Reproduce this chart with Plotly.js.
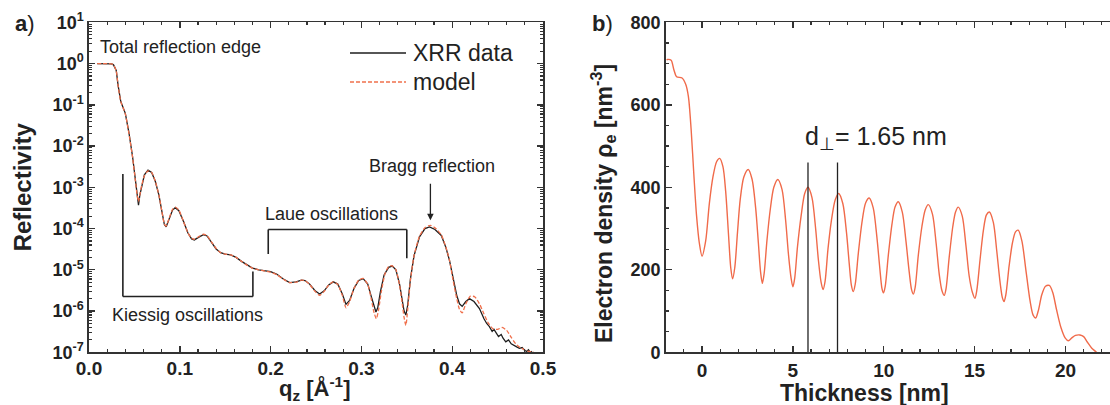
<!DOCTYPE html>
<html><head><meta charset="utf-8">
<script src="https://cdn.plot.ly/plotly-3.0.1.min.js"></script>
<style>html,body{margin:0;padding:0;background:#fff;}#chart{width:1110px;height:405px;}</style>
</head><body><div id="chart"></div>
<script>
// ---- Panel a: X-ray reflectivity ----
const qData = [0.009,0.015,0.020,0.025,0.027,0.030,0.032,0.035,0.040,0.044,0.048,0.051,0.053,0.0545,0.056,0.058,0.061,0.065,0.069,0.073,0.077,0.080,0.083,0.085,0.088,0.092,0.095,0.099,0.104,0.109,0.113,0.116,0.121,0.126,0.130,0.135,0.140,0.145,0.150,0.156,0.162,0.168,0.174,0.180,0.187,0.194,0.200,0.207,0.214,0.221,0.228,0.234,0.238,0.243,0.249,0.254,0.259,0.264,0.269,0.274,0.279,0.283,0.287,0.292,0.297,0.302,0.307,0.311,0.314,0.316,0.318,0.321,0.325,0.330,0.334,0.338,0.342,0.345,0.347,0.349,0.351,0.354,0.358,0.364,0.370,0.375,0.381,0.388,0.393,0.397,0.401,0.405,0.408,0.411,0.415,0.419,0.424,0.430,0.435,0.438,0.441,0.444,0.446,0.448,0.451,0.454,0.456,0.459,0.462,0.465,0.468,0.471,0.474,0.477,0.480,0.482,0.484,0.486,0.488];
const rData = [1.0,1.0,1.0,0.98,0.93,0.68,0.3,0.12,0.062,0.021,5.5e-3,1.5e-3,6e-4,3.7e-4,6.5e-4,1.1e-3,2.0e-3,2.6e-3,2.3e-3,1.4e-3,6.5e-4,2.8e-4,1.25e-4,1.1e-4,1.7e-4,2.8e-4,3.2e-4,2.7e-4,1.5e-4,7.8e-5,5.6e-5,5.3e-5,6.2e-5,7.1e-5,6.6e-5,4.6e-5,3.2e-5,2.6e-5,2.4e-5,2.3e-5,2.0e-5,1.6e-5,1.3e-5,1.1e-5,1.0e-5,9.3e-6,9.0e-6,7.8e-6,6.0e-6,4.9e-6,5.1e-6,5.6e-6,5.5e-6,4.5e-6,3.1e-6,2.6e-6,3.1e-6,4.3e-6,5.1e-6,4.5e-6,2.6e-6,1.45e-6,1.8e-6,3.6e-6,5.5e-6,6.1e-6,4.5e-6,2.2e-6,1.2e-6,9.5e-7,1.2e-6,3.0e-6,7.5e-6,1.15e-5,1.23e-5,1.0e-5,4.5e-6,1.8e-6,1.0e-6,8e-7,1.4e-6,6e-6,2.2e-5,6.3e-5,1.0e-4,1.1e-4,9.5e-5,6.8e-5,3.5e-5,1.7e-5,6e-6,2.4e-6,1.5e-6,1.3e-6,1.7e-6,2.0e-6,1.7e-6,1.15e-6,6.5e-7,5.0e-7,4.2e-7,3.2e-7,3.6e-7,3.0e-7,2.4e-7,2.7e-7,2.2e-7,1.8e-7,2.0e-7,1.6e-7,1.5e-7,1.35e-7,1.25e-7,1.3e-7,1.1e-7,1.05e-7,1.15e-7,1.0e-7,1.05e-7];
const qModel = [0.009,0.015,0.020,0.025,0.027,0.030,0.032,0.035,0.040,0.044,0.048,0.051,0.053,0.0545,0.056,0.058,0.061,0.065,0.069,0.073,0.077,0.080,0.083,0.085,0.088,0.092,0.095,0.099,0.104,0.109,0.113,0.116,0.121,0.126,0.130,0.135,0.140,0.145,0.150,0.156,0.162,0.168,0.174,0.180,0.187,0.194,0.200,0.207,0.214,0.221,0.228,0.234,0.238,0.243,0.249,0.254,0.259,0.264,0.269,0.274,0.279,0.283,0.287,0.292,0.297,0.302,0.307,0.311,0.314,0.3165,0.319,0.322,0.326,0.330,0.334,0.338,0.342,0.345,0.347,0.349,0.351,0.354,0.358,0.364,0.370,0.376,0.382,0.388,0.393,0.397,0.401,0.405,0.408,0.411,0.415,0.420,0.425,0.430,0.435,0.440,0.445,0.450,0.455,0.460,0.465,0.470,0.475,0.480,0.485,0.490];
const rModel = [1.0,1.0,1.0,0.98,0.93,0.66,0.3,0.12,0.06,0.02,5.3e-3,1.5e-3,6.5e-4,4.5e-4,6.5e-4,1.1e-3,1.9e-3,2.5e-3,2.3e-3,1.4e-3,6.5e-4,2.8e-4,1.3e-4,1.15e-4,1.7e-4,2.9e-4,3.3e-4,2.8e-4,1.5e-4,7.8e-5,5.8e-5,5.5e-5,6.4e-5,7.3e-5,6.7e-5,4.7e-5,3.3e-5,2.6e-5,2.4e-5,2.3e-5,2.0e-5,1.6e-5,1.3e-5,1.1e-5,1.0e-5,9.3e-6,8.8e-6,7.6e-6,5.9e-6,4.9e-6,5.0e-6,5.6e-6,5.4e-6,4.4e-6,3.0e-6,2.4e-6,3.0e-6,4.3e-6,5.1e-6,4.4e-6,2.4e-6,1.2e-6,1.7e-6,3.6e-6,5.6e-6,6.2e-6,4.4e-6,1.9e-6,9e-7,6.5e-7,1.1e-6,3.0e-6,8e-6,1.2e-5,1.25e-5,1.0e-5,4.3e-6,1.5e-6,7e-7,4.5e-7,1.1e-6,5.5e-6,2.2e-5,6.5e-5,1.05e-4,1.2e-4,1.0e-4,7e-5,3.6e-5,1.7e-5,5.5e-6,2.0e-6,1.1e-6,9e-7,1.5e-6,2.3e-6,2.2e-6,1.5e-6,8.5e-7,5e-7,3.7e-7,3.6e-7,4.0e-7,3.4e-7,2.3e-7,1.6e-7,1.3e-7,1.15e-7,1.05e-7,1.0e-7];
const logTickVals = [1e-7,1e-6,1e-5,1e-4,1e-3,1e-2,1e-1,1,10];
const logTickText = ['10<sup>-7</sup>','10<sup>-6</sup>','10<sup>-5</sup>','10<sup>-4</sup>','10<sup>-3</sup>','10<sup>-2</sup>','10<sup>-1</sup>','10<sup>0</sup>','10<sup>1</sup>'];

// ---- Panel b: electron density profile ----
const thickness = [-1.95,-1.9,-1.7,-1.55,-1.4,-1.1,-0.9,-0.75,-0.6,-0.45,-0.3,-0.15,0.0,0.2,0.4,0.6,0.8,0.97,1.15,1.3,1.45,1.58,1.68,1.8,1.95,2.1,2.3,2.54,2.75,2.95,3.1,3.22,3.32,3.42,3.57,3.75,3.95,4.17,4.4,4.6,4.75,4.9,5.0,5.1,5.25,5.45,5.65,5.83,6.05,6.25,6.4,6.55,6.66,6.77,6.93,7.12,7.33,7.52,7.75,7.95,8.1,8.22,8.32,8.43,8.6,8.8,9.0,9.2,9.42,9.62,9.78,9.9,9.98,10.08,10.25,10.45,10.62,10.8,11.02,11.22,11.4,11.53,11.63,11.73,11.9,12.1,12.28,12.45,12.68,12.88,13.05,13.2,13.33,13.43,13.6,13.8,13.95,14.1,14.32,14.52,14.7,14.88,15.02,15.12,15.3,15.48,15.65,15.81,16.03,16.22,16.4,16.53,16.62,16.72,16.9,17.08,17.25,17.4,17.6,17.82,18.05,18.22,18.36,18.5,18.7,18.9,19.11,19.3,19.5,19.75,19.98,20.16,20.35,20.55,20.8,21.0,21.2,21.45,21.7,22.0,22.45];
const density = [709,710,708,685,668,665,650,620,540,430,330,265,233,270,360,425,462,470,450,390,290,205,178,205,290,370,425,443,420,350,265,195,167,192,270,345,400,419,395,320,240,180,159,180,255,330,385,400,375,300,225,170,152,172,250,320,370,385,360,290,215,162,147,165,240,315,362,374,350,280,205,155,144,160,235,310,352,365,340,270,195,152,141,158,235,305,345,358,335,265,190,150,138,155,230,305,340,352,330,260,185,145,131,150,225,295,333,340,315,245,170,132,123,140,210,265,292,296,270,200,125,90,83,100,140,160,162,145,105,60,35,28,35,41,42,38,25,10,0,-20,-50];
const dLineX = [5.83, 7.455];
const dLineTop = 460;

const FONT = 'Arial, "Liberation Sans", sans-serif';
const INK = '#222';
const AX = '#333';

// minor log ticks (2..9 of every decade)
const minorLog = [];
for (let e = -7; e < 1; e++) for (let m = 2; m <= 9; m++) minorLog.push(m * Math.pow(10, e));

const px = v => v / 1110;          // pixel -> paper x
const py = v => 1 - v / 405;       // pixel -> paper y

const traces = [
  {x: qData, y: rData, xaxis: 'x', yaxis: 'y', mode: 'lines', name: 'XRR data',
   line: {color: '#1e1e1e', width: 1.3}, showlegend: false},
  {x: qModel, y: rModel, xaxis: 'x', yaxis: 'y', mode: 'lines', name: 'model',
   line: {color: '#f0704c', width: 1.3, dash: '4px,2px', shape: 'spline', smoothing: 0.6}, showlegend: false},
  {x: thickness, y: density, xaxis: 'x2', yaxis: 'y2', mode: 'lines', name: 'ρe',
   line: {color: '#f06a4a', width: 1.4, shape: 'spline', smoothing: 0.8}, showlegend: false}
];

const baseAxis = {
  showgrid: false, zeroline: false, showline: true, linecolor: AX, linewidth: 1.6,
  ticks: 'inside', ticklen: 6, tickwidth: 1.4, tickcolor: AX,
  tickfont: {family: FONT, size: 18, color: INK, weight: 'bold'}
};

const layout = {
  width: 1110, height: 405, margin: {l: 0, r: 0, t: 0, b: 0},
  paper_bgcolor: '#fff', plot_bgcolor: '#fff', showlegend: false,
  font: {family: FONT, color: INK},
  xaxis: Object.assign({}, baseAxis, {
    domain: [px(89), px(543)], anchor: 'y', range: [0, 0.5], tick0: 0, dtick: 0.1, tickformat: '.1f',
    mirror: 'allticks', ticklabelstandoff: -2, tickfont: {family: FONT, size: 19, color: INK, weight: 'bold'},
    minor: {dtick: 0.02, ticks: 'inside', ticklen: 3, tickwidth: 1.2, tickcolor: AX}
  }),
  yaxis: Object.assign({}, baseAxis, {
    domain: [py(352.3), py(22.3)], anchor: 'x', type: 'log', range: [-7, 1],
    tickmode: 'array', tickvals: logTickVals, ticktext: logTickText, mirror: 'allticks',
    tickfont: {family: FONT, size: 18, color: INK, weight: 'bold'},
    minor: {tickmode: 'array', tickvals: minorLog, ticks: 'inside', ticklen: 3, tickwidth: 1.1, tickcolor: AX},
    title: {text: 'Reflectivity', font: {family: FONT, size: 24, weight: 'bold', color: INK}, standoff: 14}
  }),
  xaxis2: Object.assign({}, baseAxis, {
    domain: [px(665.7), 1], anchor: 'y2', range: [-2, 22.45], tick0: 0, dtick: 5,
    mirror: 'allticks', tickfont: {family: FONT, size: 19, color: INK, weight: 'bold'},
    minor: {dtick: 1, ticks: 'inside', ticklen: 3, tickwidth: 1.2, tickcolor: AX}
  }),
  yaxis2: Object.assign({}, baseAxis, {
    domain: [py(352.3), py(22.3)], anchor: 'x2', range: [0, 800], tick0: 0, dtick: 200, mirror: false,
    minor: {dtick: 50, ticks: 'inside', ticklen: 3, tickwidth: 1.2, tickcolor: AX}
  }),
  shapes: [
    // Laue bracket
    {type: 'line', xref: 'x', yref: 'y', x0: 0.1974, x1: 0.1974, y0: 2.4e-5, y1: 9.5e-5, line: {color: INK, width: 1.6}},
    {type: 'line', xref: 'x', yref: 'y', x0: 0.1974, x1: 0.35, y0: 9.5e-5, y1: 9.5e-5, line: {color: INK, width: 1.6}},
    {type: 'line', xref: 'x', yref: 'y', x0: 0.35, x1: 0.35, y0: 9.5e-5, y1: 1.9e-5, line: {color: INK, width: 1.6}},
    // Kiessig bracket
    {type: 'line', xref: 'x', yref: 'y', x0: 0.0373, x1: 0.0373, y0: 2.1e-3, y1: 2.26e-6, line: {color: INK, width: 1.6}},
    {type: 'line', xref: 'x', yref: 'y', x0: 0.0373, x1: 0.1805, y0: 2.26e-6, y1: 2.26e-6, line: {color: INK, width: 1.6}},
    {type: 'line', xref: 'x', yref: 'y', x0: 0.1805, x1: 0.1805, y0: 2.26e-6, y1: 9.1e-6, line: {color: INK, width: 1.6}},
    // legend samples
    {type: 'line', xref: 'paper', yref: 'paper', x0: px(350), x1: px(406), y0: py(53), y1: py(53), line: {color: '#1e1e1e', width: 1.3}},
    {type: 'line', xref: 'paper', yref: 'paper', x0: px(350), x1: px(406), y0: py(82), y1: py(82), line: {color: '#f0704c', width: 1.3, dash: '4px,2px'}},
    // d-spacing lines
    {type: 'line', xref: 'x2', yref: 'y2', x0: dLineX[0], x1: dLineX[0], y0: 0, y1: dLineTop, line: {color: INK, width: 1.3}},
    {type: 'line', xref: 'x2', yref: 'y2', x0: dLineX[1], x1: dLineX[1], y0: 0, y1: dLineTop, line: {color: INK, width: 1.3}}
  ],
  annotations: [
    {xref: 'paper', yref: 'paper', x: px(24.5), y: py(24), text: '<b>a</b>)', showarrow: false, xanchor: 'center', yanchor: 'middle', font: {family: FONT, size: 22, color: INK}},
    {xref: 'paper', yref: 'paper', x: px(602), y: py(24), text: '<b>b</b>)', showarrow: false, xanchor: 'center', yanchor: 'middle', font: {family: FONT, size: 22, color: INK}},
    {xref: 'x', yref: 'y', x: 0.0099, y: 0.41, text: 'Total reflection edge', showarrow: false, xanchor: 'left', yanchor: 'middle', font: {family: FONT, size: 18, color: INK}},
    {xref: 'x', yref: 'y', x: 0.378, y: -2.49, text: 'Bragg reflection', showarrow: false, xanchor: 'center', yanchor: 'middle', font: {family: FONT, size: 18, color: INK}},
    {xref: 'x', yref: 'y', x: 0.376, y: -3.8, text: '', showarrow: true, ax: 0, ay: -38, arrowhead: 2, arrowsize: 1, arrowwidth: 1.3, arrowcolor: INK, standoff: 0},
    {xref: 'x', yref: 'y', x: 0.2676, y: -3.64, text: 'Laue oscillations', showarrow: false, xanchor: 'center', yanchor: 'middle', font: {family: FONT, size: 18, color: INK}},
    {xref: 'x', yref: 'y', x: 0.108, y: -6.09, text: 'Kiessig oscillations', showarrow: false, xanchor: 'center', yanchor: 'middle', font: {family: FONT, size: 18, color: INK}},
    {xref: 'paper', yref: 'paper', x: px(411), y: py(53), text: 'XRR data', showarrow: false, xanchor: 'left', yanchor: 'middle', font: {family: FONT, size: 23, color: INK}},
    {xref: 'paper', yref: 'paper', x: px(411), y: py(82), text: 'model', showarrow: false, xanchor: 'left', yanchor: 'middle', font: {family: FONT, size: 23, color: INK}},
    {xref: 'x2', yref: 'y2', x: 5.556, y: 520, text: 'd<sub>⊥</sub>= 1.65 nm', showarrow: false, xanchor: 'left', yanchor: 'middle', font: {family: FONT, size: 25, color: INK}},
    {xref: 'paper', yref: 'paper', x: px(315), y: py(388), text: 'q<sub>z</sub> [Å<sup>-1</sup>]', showarrow: false, xanchor: 'center', yanchor: 'middle', font: {family: FONT, size: 22, weight: 'bold', color: INK}},
    {xref: 'paper', yref: 'paper', x: px(603), y: py(204), text: 'Electron density ρ<sub>e</sub> [nm<sup>-3</sup>]', textangle: -90, showarrow: false, xanchor: 'center', yanchor: 'middle', font: {family: FONT, size: 23, weight: 'bold', color: INK}},
    {xref: 'paper', yref: 'paper', x: px(864), y: py(393), text: 'Thickness [nm]', showarrow: false, xanchor: 'center', yanchor: 'middle', font: {family: FONT, size: 23, weight: 'bold', color: INK}}
  ]
};

Plotly.newPlot('chart', traces, layout, {displayModeBar: false, staticPlot: true});
</script>
</body></html>
